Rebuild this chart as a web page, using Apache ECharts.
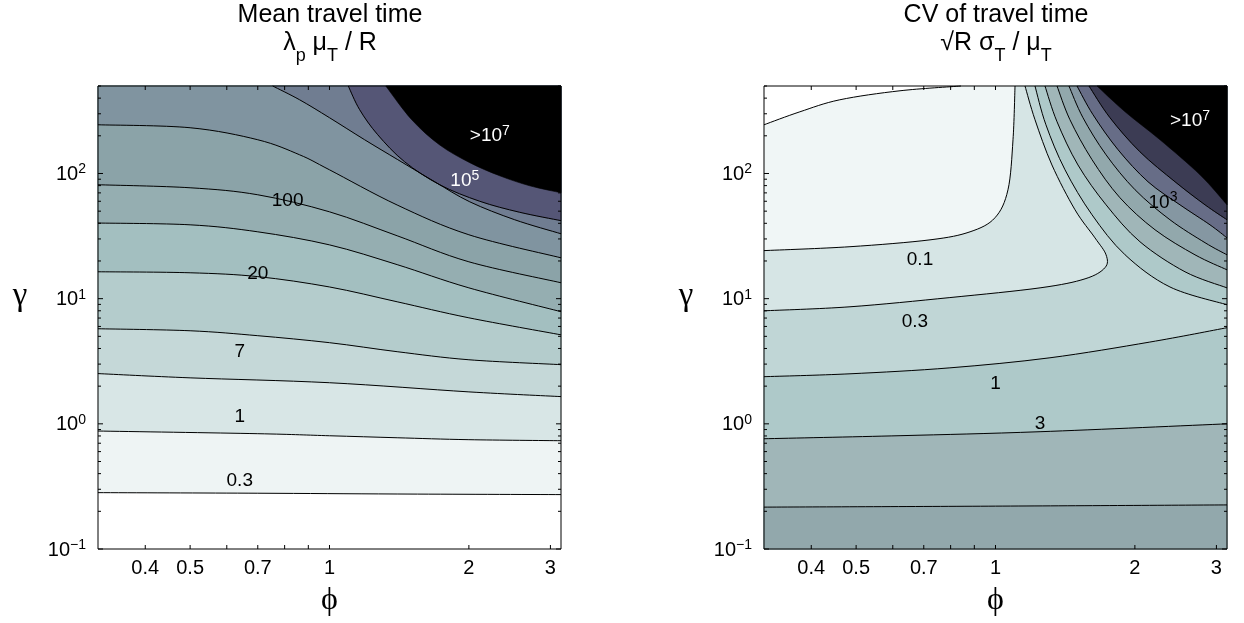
<!DOCTYPE html>
<html><head><meta charset="utf-8">
<script src="https://cdn.jsdelivr.net/npm/echarts@6.0.0/dist/echarts.min.js"></script>
<style>html,body{margin:0;padding:0;background:#fff;}#chart{width:1244px;height:623px;}</style>
</head><body><div id="chart"></div>
<script>
// ---------------- axes ----------------
const PHI_RANGE = [0.316228, 3.162278];
const GAMMA_RANGE = [0.1, 500];
const phiTicks = [0.4, 0.5, 0.6, 0.7, 0.8, 0.9, 1, 2, 3];
const phiTickLabels = ['0.4', '0.5', '', '0.7', '', '', '1', '2', '3'];
const gammaMajorTicks = [0.1, 1, 10, 100];
const gammaMajorExp = ['\u22121', '0', '1', '2'];
const gammaMinorTicks = [0.2, 0.3, 0.4, 0.5, 0.6, 0.7, 0.8, 0.9, 2, 3, 4, 5, 6, 7, 8, 9,
  20, 30, 40, 50, 60, 70, 80, 90, 200, 300, 400, 500];

// ---------------- left panel: mean travel time contours [phi, gamma] ----------------
const mean_0_3 = [[0.3162, 0.282], [0.7, 0.279], [1.4, 0.275], [3.1623, 0.272]];
const mean_1 = [[0.3162, 0.876], [0.7, 0.834], [1, 0.803], [1.4, 0.774], [2, 0.747], [3.1623, 0.733]];
const mean_3 = [[0.3162, 2.52], [0.5, 2.33], [1, 2.13], [2, 1.80], [3.1623, 1.65]];
const mean_7 = [[0.3162, 5.75], [0.5, 5.54], [0.7, 5.06], [1, 4.45], [1.4, 3.77], [2, 3.25], [3.1623, 2.97]];
const mean_20 = [[0.3162, 16.4], [0.5, 16.1], [0.7, 15.0], [1, 12.4], [1.4, 9.44], [2, 7.03], [3.1623, 5.14]];
const mean_50 = [[0.3162, 40.2], [0.5, 38.9], [0.7, 34.2], [1, 26.9], [1.4, 18.7], [2, 12.2], [3.1623, 7.87]];
const mean_100 = [[0.3162, 81.3], [0.5, 76.9], [0.7, 67.6], [1, 49.4], [1.4, 31.8], [2, 19.7], [3.1623, 13.4]];
const mean_300 = [[0.3162, 245], [0.5, 232], [0.7, 186], [0.862, 141], [1, 107], [1.4, 56], [2, 32.4], [3.1623, 21.2]];
const mean_1e3 = [[0.754, 500], [0.862, 388], [1, 279], [1.191, 186], [1.404, 129], [1.687, 86], [2.009, 59.4], [2.512, 42.7], [3.1623, 33.0]];
const mean_1e5 = [[1.098, 500], [1.162, 323], [1.271, 204], [1.453, 124], [1.730, 81.3], [2.111, 60.0], [2.575, 49.0], [3.1623, 42.0]];
const mean_1e7 = [[1.323, 500], [1.505, 269], [1.73, 169], [2.009, 122], [2.331, 95.9], [2.706, 79.8], [3.1623, 70.1]];
const meanLabelText = ['0.3', '1', '7', '20', '100', '10^5', '>10^7'];
const meanLabelPos = [[0.64, 0.358], [0.64, 1.18], [0.64, 3.84], [0.70, 16.4], [0.812, 61.7], [1.96, 89.1], [2.22, 204]];

// ---------------- right panel: CV of travel time contours [phi, gamma] ----------------
const cv_0_03 = [[0.3162, 245], [0.378, 311], [0.461, 388], [0.622, 458], [0.842, 500]];
const cv_0_1 = [[0.3162, 24.2], [0.485, 26.0], [0.722, 29.5], [0.881, 34.2], [0.9975, 44.3], [1.064, 74.1], [1.091, 186], [1.102, 500]];
const cv_0_3 = [[0.3162, 8.0], [0.485, 8.61], [0.797, 10.2], [1.248, 12.2], [1.561, 14.4], [1.724, 17.7], [1.733, 22.4], [1.640, 30.6], [1.485, 51.3], [1.324, 117], [1.217, 269], [1.158, 500]];
const cv_1_low = [[0.3162, 2.38], [0.485, 2.51], [0.797, 2.80], [1.311, 3.37], [2.154, 4.5], [3.1623, 5.86]];
const cv_3_low = [[0.3162, 0.760], [0.622, 0.804], [1.248, 0.865], [3.1623, 1.0]];
const cv_10_low = [[0.3162, 0.216], [1, 0.220], [3.1623, 0.225]];
const cv_1_up = [[1.217, 500], [1.285, 245], [1.413, 107], [1.616, 46.8], [1.905, 22.4], [2.381, 12.4], [3.1623, 8.94]];
const cv_3_up = [[1.279, 500], [1.358, 259], [1.507, 117], [1.733, 56.2], [2.051, 28.5], [2.566, 16.4], [3.1623, 12.2]];
const cv_10_up = [[1.358, 500], [1.448, 269], [1.616, 129], [1.857, 64.0], [2.211, 35.5], [2.697, 22.4], [3.1623, 17.0]];
const cv_100_up = [[1.441, 500], [1.545, 279], [1.733, 141], [2.002, 74.1], [2.381, 42.7], [2.835, 28.0], [3.1623, 22.4]];
const cv_1e3_up = [[1.500, 500], [1.624, 295], [1.839, 155], [2.135, 85.9], [2.503, 56.2], [2.906, 38.9], [3.1623, 30.6]];
const cv_1e5_up = [[1.592, 500], [1.767, 279], [2.051, 149], [2.442, 85.9], [2.835, 56.2], [3.1623, 42.7]];
const cv_1e7_up = [[1.657, 500], [1.905, 311], [2.266, 186], [2.765, 97.6], [3.1623, 56.2]];
const cvLabelText = ['0.1', '0.3', '1', '3', '10^3', '>10^7'];
const cvLabelPos = [[0.687, 21.2], [0.670, 6.78], [1.0, 2.13], [1.248, 1.02], [2.30, 60.0], [2.631, 269]];

// ---------------- styles ----------------
const FONT = '"Liberation Sans", Arial, Helvetica, sans-serif';
const SERIF = '"Liberation Serif", "DejaVu Serif", serif';
const XMIN = PHI_RANGE[0], XMAX = PHI_RANGE[1], YMIN = GAMMA_RANGE[0], YMAX = GAMMA_RANGE[1];
const TL = [XMIN, YMAX], TR = [XMAX, YMAX], BR = [XMAX, YMIN], BL = [XMIN, YMIN];
const ABOVE = [TR, TL], CORNER = [TR], OUTSIDE = [TR, BR, BL], BELOW = [BR, BL];

const meanFills = [
  { pts: mean_0_3, close: ABOVE, color: '#eef4f4' },
  { pts: mean_1, close: ABOVE, color: '#d8e6e6' },
  { pts: mean_3, close: ABOVE, color: '#c5d8d8' },
  { pts: mean_7, close: ABOVE, color: '#b4cccc' },
  { pts: mean_20, close: ABOVE, color: '#a3bfc0' },
  { pts: mean_50, close: ABOVE, color: '#95aeb1' },
  { pts: mean_100, close: ABOVE, color: '#8ba3a8' },
  { pts: mean_300, close: ABOVE, color: '#8094a0' },
  { pts: mean_1e3, close: CORNER, color: '#707d91' },
  { pts: mean_1e5, close: CORNER, color: '#555676' },
  { pts: mean_1e7, close: CORNER, color: '#000000' }
];
const meanLabelColor = ['#000', '#000', '#000', '#000', '#000', '#fff', '#fff'];

const cvFills = [
  { pts: cv_0_03, close: OUTSIDE, color: '#f0f6f6' },
  { pts: cv_0_1, close: OUTSIDE, color: '#d6e5e5' },
  { pts: cv_0_3, close: OUTSIDE, color: '#c0d6d6' },
  { pts: cv_1_low, close: BELOW, color: '#aec9c9' },
  { pts: cv_1_up, close: CORNER, color: '#aec9c9' },
  { pts: cv_3_low, close: BELOW, color: '#a0b6b8' },
  { pts: cv_3_up, close: CORNER, color: '#a0b6b8' },
  { pts: cv_10_low, close: BELOW, color: '#92a8ac' },
  { pts: cv_10_up, close: CORNER, color: '#92a8ac' },
  { pts: cv_100_up, close: CORNER, color: '#8597a2' },
  { pts: cv_1e3_up, close: CORNER, color: '#676d87' },
  { pts: cv_1e5_up, close: CORNER, color: '#3c3c54' },
  { pts: cv_1e7_up, close: CORNER, color: '#000000' }
];
const cvLabelColor = ['#000', '#000', '#000', '#000', '#000', '#fff'];

function smoothPath(p) {
  let d = 'M' + p[0][0] + ' ' + p[0][1];
  for (let i = 0; i < p.length - 1; i++) {
    const p0 = p[i - 1] || p[i], p1 = p[i], p2 = p[i + 1], p3 = p[i + 2] || p[i + 1];
    const c1x = p1[0] + (p2[0] - p0[0]) / 6, c1y = p1[1] + (p2[1] - p0[1]) / 6;
    const c2x = p2[0] - (p3[0] - p1[0]) / 6, c2y = p2[1] - (p3[1] - p1[1]) / 6;
    d += ' C' + c1x + ' ' + c1y + ' ' + c2x + ' ' + c2y + ' ' + p2[0] + ' ' + p2[1];
  }
  return d;
}

function richLabel(t) {
  const m = /^(>?)10\^(.+)$/.exec(t);
  if (!m) return '{n|' + t + '}';
  return '{n|' + m[1] + '10}{s|' + m[2] + '}';
}

function panel(gi, bg, fills, labelText, labelPos, labelColor) {
  return {
    type: 'custom', coordinateSystem: 'cartesian2d', xAxisIndex: gi, yAxisIndex: gi,
    data: [[1, 1]], silent: true, animation: false, clip: false,
    renderItem: function (params, api) {
      const P = function (v) { return api.coord(v); };
      const tl = P(TL), br = P(BR);
      const ch = [];
      ch.push({ type: 'rect', shape: { x: tl[0], y: tl[1], width: br[0] - tl[0], height: br[1] - tl[1] }, style: { fill: bg } });
      fills.forEach(function (f) {
        let d = smoothPath(f.pts.map(P));
        f.close.forEach(function (c) { const q = P(c); d += ' L' + q[0] + ' ' + q[1]; });
        d += ' Z';
        ch.push({ type: 'path', shape: { pathData: d }, style: { fill: f.color, stroke: f.color, lineWidth: 0.6 } });
      });
      fills.forEach(function (f) {
        if (f.color === '#000000') return;
        ch.push({ type: 'path', shape: { pathData: smoothPath(f.pts.map(P)) }, style: { fill: 'none', stroke: '#000', lineWidth: 1 } });
      });
      labelText.forEach(function (t, i) {
        const q = P(labelPos[i]);
        ch.push({ type: 'text', x: q[0], y: q[1], style: {
          text: richLabel(t), align: 'center', verticalAlign: 'middle', fill: labelColor[i],
          rich: {
            n: { fontSize: 19, fontFamily: FONT, fill: labelColor[i], lineHeight: 22, verticalAlign: 'bottom' },
            s: { fontSize: 14, fontFamily: FONT, fill: labelColor[i], lineHeight: 14, verticalAlign: 'top' }
          } } });
      });
      // frame
      ch.push({ type: 'rect', shape: { x: tl[0], y: tl[1], width: br[0] - tl[0], height: br[1] - tl[1] }, style: { fill: 'none', stroke: '#000', lineWidth: 1 } });
      // x ticks
      phiTicks.forEach(function (v, i) {
        const b = P([v, YMIN]), t = P([v, YMAX]);
        ch.push({ type: 'line', shape: { x1: b[0], y1: b[1], x2: b[0], y2: b[1] - 4 }, style: { stroke: '#000', lineWidth: 1 } });
        ch.push({ type: 'line', shape: { x1: t[0], y1: t[1], x2: t[0], y2: t[1] + 4 }, style: { stroke: '#000', lineWidth: 1 } });
        if (phiTickLabels[i]) ch.push({ type: 'text', x: b[0], y: b[1] + 19, style: { text: phiTickLabels[i], font: '20px ' + FONT, fill: '#000', align: 'center', verticalAlign: 'middle' } });
      });
      // y ticks
      gammaMinorTicks.forEach(function (v) {
        const l = P([XMIN, v]), r = P([XMAX, v]);
        ch.push({ type: 'line', shape: { x1: l[0], y1: l[1], x2: l[0] + 3, y2: l[1] }, style: { stroke: '#000', lineWidth: 1 } });
        ch.push({ type: 'line', shape: { x1: r[0], y1: r[1], x2: r[0] - 3, y2: r[1] }, style: { stroke: '#000', lineWidth: 1 } });
      });
      gammaMajorTicks.forEach(function (v, i) {
        const l = P([XMIN, v]), r = P([XMAX, v]);
        ch.push({ type: 'line', shape: { x1: l[0], y1: l[1], x2: l[0] + 5, y2: l[1] }, style: { stroke: '#000', lineWidth: 1 } });
        ch.push({ type: 'line', shape: { x1: r[0], y1: r[1], x2: r[0] - 5, y2: r[1] }, style: { stroke: '#000', lineWidth: 1 } });
        ch.push({ type: 'text', x: l[0] - 12, y: l[1], style: {
          text: '{b|10}{s|' + gammaMajorExp[i] + '}', align: 'right', verticalAlign: 'middle',
          rich: {
            b: { fontSize: 20, fontFamily: FONT, fill: '#000', lineHeight: 22, verticalAlign: 'bottom' },
            s: { fontSize: 14, fontFamily: FONT, fill: '#000', lineHeight: 14, verticalAlign: 'top' }
          } } });
      });
      // axis names
      ch.push({ type: 'text', x: (tl[0] + br[0]) / 2, y: br[1] + 52, style: { text: '\u03d5', font: '32px ' + SERIF, fill: '#000', align: 'center', verticalAlign: 'middle' } });
      const g10 = P([XMIN, 10]);
      ch.push({ type: 'text', x: tl[0] - 78, y: g10[1] - 2, style: { text: '\u03b3', font: '33px ' + SERIF, fill: '#000', align: 'center', verticalAlign: 'middle' } });
      return { type: 'group', children: ch };
    }
  };
}

function title(x, line1, line2) {
  return [
    { type: 'text', x: x, y: 15, style: { text: line1, font: '25px ' + FONT, fill: '#000', align: 'center', verticalAlign: 'middle' } },
    { type: 'text', x: x, y: 31, style: { text: line2, align: 'center', verticalAlign: 'top',
      rich: {
        m: { fontSize: 25, fontFamily: FONT, fill: '#000', lineHeight: 26, verticalAlign: 'top' },
        u: { fontSize: 18, fontFamily: FONT, fill: '#000', lineHeight: 18, padding: [16, 0, 0, 0], verticalAlign: 'top' }
      } } }
  ];
}

const chart = echarts.init(document.getElementById('chart'), null, { renderer: 'canvas' });
const axisCommon = { type: 'log', logBase: 10, axisLine: { show: false }, axisTick: { show: false }, axisLabel: { show: false }, splitLine: { show: false } };
chart.setOption({
  animation: false,
  backgroundColor: '#fff',
  grid: [
    { left: 98, top: 86, width: 463, height: 463 },
    { left: 764, top: 86, width: 463, height: 463 }
  ],
  xAxis: [
    Object.assign({ gridIndex: 0, min: XMIN, max: XMAX }, axisCommon),
    Object.assign({ gridIndex: 1, min: XMIN, max: XMAX }, axisCommon)
  ],
  yAxis: [
    Object.assign({ gridIndex: 0, min: YMIN, max: YMAX }, axisCommon),
    Object.assign({ gridIndex: 1, min: YMIN, max: YMAX }, axisCommon)
  ],
  graphic: title(330, 'Mean travel time', '{m|\u03bb}{u|p}{m| \u03bc}{u|T}{m| / R}').concat(
           title(996, 'CV of travel time', '{m|\u221aR \u03c3}{u|T}{m| / \u03bc}{u|T}')),
  series: [
    panel(0, '#ffffff', meanFills, meanLabelText, meanLabelPos, meanLabelColor),
    panel(1, '#ffffff', cvFills, cvLabelText, cvLabelPos, cvLabelColor)
  ]
});
</script>
</body></html>
